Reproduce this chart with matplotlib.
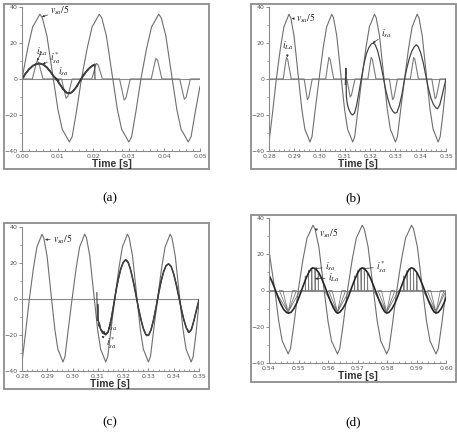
import matplotlib.pyplot as plt
import numpy as np
from matplotlib.patches import Rectangle
from matplotlib.ticker import MultipleLocator, FormatStrFormatter

plt.rcParams['mathtext.fontset'] = 'stix'

# ---- data (time in ms) ----
# (a) start-up, 0.00 - 0.05 s
va_t = [0.0, 1.6, 3.0, 3.6, 5.0, 5.7, 7.0, 8.8, 10.1, 11.3, 11.9, 13.3, 14.1, 15.3,
        16.7, 18.3, 19.7, 20.3, 21.7, 22.4, 23.7, 25.5, 26.8, 28.0, 28.6, 30.0, 30.8, 32.0,
        33.4, 35.0, 36.4, 37.0, 38.4, 39.1, 40.4, 42.2, 43.5, 44.7, 45.3, 46.7, 47.5, 48.7, 50.0]
va = [0, 17, 29, 31, 36, 34, 24, 0, -17, -28, -30, -35, -32, -18,
      0, 17, 29, 31, 36, 34, 24, 0, -17, -28, -30, -35, -32, -18,
      0, 17, 29, 31, 36, 34, 24, 0, -17, -28, -30, -35, -32, -18, -4]
ila_t = [0.0, 2.9, 3.6, 4.2, 4.7, 5.3, 5.9,
         11.1, 11.8, 12.4, 12.9, 13.5, 14.1,
         19.6, 20.3, 20.9, 21.4, 22.0, 22.6,
         27.4, 28.1, 28.7, 29.2, 29.8, 30.4,
         36.3, 37.0, 37.6, 38.1, 38.7, 39.3,
         44.3, 45.0, 45.6, 46.1, 46.7, 47.3, 50.0]
ila_a = [0, 0, 5.5, 10, 9, 4.5, 0,
         0, -5.9, -10.7, -9.6, -4.8, 0,
         0, 4.8, 8.7, 7.8, 3.9, 0,
         0, -6.4, -11.7, -10.5, -5.3, 0,
         0, 6.3, 11.5, 10.4, 5.2, 0,
         0, -6.2, -11.3, -10.2, -5.1, 0, 0]
isref_a_t = [0.0, 1.0, 2.0, 3.0, 4.0, 4.9, 6.0, 7.0, 8.0, 9.0, 9.7, 10.5, 11.5, 12.5,
             13.2, 14.0, 15.0, 16.0, 16.6, 17.5, 18.5, 19.5, 20.4]
isref_a = [0, 3, 5.5, 7.3, 8.3, 8.6, 8.0, 6.4, 4.0, 1.3, 0, -2.5, -5.5, -7.5,
           -8.0, -7.4, -5.2, -2.0, 0, 2.8, 5.2, 7.0, 8.0]
isa_a_t = list(np.arange(0, 20.01, 0.5)) + [20.4, 20.5]
isa_a = [0, 1.0, 3.4, 4.0, 5.8, 6.2, 7.5, 7.6, 8.5, 8.4,
         8.8, 8.2, 8.2, 7.0, 6.6, 5.0, 4.3, 2.4, 1.5, -0.4,
         -1.0, -3.0, -3.8, -5.8, -6.3, -7.8, -7.6, -8.1, -7.2, -6.6,
         -5.0, -4.2, -2.0, -1.0, 1.2, 2.2, 4.1, 4.8, 6.4, 6.8,
         7.9, 8.0, 0]

# (b) and (c) share the 0.28 - 0.35 s window
vb_t = [280.0, 281.3, 282.9, 284.5, 285.9, 286.5, 287.9, 288.6, 289.9, 291.7, 293.0, 294.2, 294.8, 296.2, 297.0, 298.2,
        299.8, 301.4, 302.8, 303.4, 304.8, 305.5, 306.8, 308.6, 309.9, 311.1, 311.7, 313.1, 313.9, 315.1,
        316.7, 318.3, 319.7, 320.3, 321.7, 322.4, 323.7, 325.5, 326.8, 328.0, 328.6, 330.0, 330.8, 332.0,
        333.6, 335.2, 336.6, 337.2, 338.6, 339.3, 340.6, 342.4, 343.7, 344.9, 345.5, 346.9, 347.7, 348.9, 350.0]
vb = [-35, -20, 0, 17, 29, 31, 36, 34, 24, 0, -17, -28, -30, -35, -32, -18,
      0, 17, 29, 31, 36, 34, 24, 0, -17, -28, -30, -35, -32, -18,
      0, 17, 29, 31, 36, 34, 24, 0, -17, -28, -30, -35, -32, -18,
      0, 17, 29, 31, 36, 34, 24, 0, -17, -28, -30, -35, -32, -18, -2]
ila_b_t = [280.0, 285.6, 286.3, 286.9, 287.4, 288.1, 288.8,
           293.9, 294.6, 295.2, 295.7, 296.4, 297.1,
           302.4, 303.1, 303.7, 304.2, 304.9, 305.6,
           310.8, 311.5, 312.1, 312.6, 313.3, 314.0,
           319.1, 319.8, 320.4, 320.9, 321.6, 322.3,
           327.6, 328.3, 328.9, 329.4, 330.1, 330.8,
           335.9, 336.6, 337.2, 337.7, 338.4, 339.1,
           344.4, 345.1, 345.7, 346.2, 346.9, 347.6, 350.0]
ila_b = [0, 0, 6.6, 12, 10.8, 5.4, 0,
         0, -6.3, -11.5, -10.4, -5.2, 0,
         0, 6.6, 12, 10.8, 5.4, 0,
         0, -5.5, -10, -9, -4.5, 0,
         0, 6.6, 12, 10.8, 5.4, 0,
         0, -6.3, -11.5, -10.4, -5.2, 0,
         0, 6.6, 12, 10.8, 5.4, 0,
         0, -6.1, -11, -9.9, -5, 0, 0]
isa_b_t = [310.2, 310.4, 310.6, 311.0, 311.6, 312.3, 313.0, 313.8, 314.6, 315.5,
           316.5, 317.5, 318.5, 319.5, 320.5, 321.2, 322.0, 323.0, 324.0, 325.0,
           326.0, 327.0, 328.0, 329.0, 329.8, 330.6, 331.5, 332.5, 333.5, 334.5,
           335.5, 336.5, 337.5, 338.3, 339.0, 340.0, 341.0, 342.0, 343.0, 344.0,
           345.0, 346.0, 346.6, 347.5, 348.5, 349.3, 350.0]
isa_b = [-3, 6, -10, -14, -17, -19, -20, -19, -15, -8,
         0, 8, 14, 17.5, 19.5, 20, 19, 15.5, 9.5, 2.5,
         -5, -11, -15.5, -18, -19, -18.5, -15, -9, -1, 6,
         11.5, 15.5, 18, 19, 18, 14.5, 9, 2, -5, -10.5,
         -14, -16, -16.5, -14.5, -9, -4, 0]
isa_c_t = [309.6, 309.8, 310.0, 310.3, 310.7, 311.2, 311.8, 312.5, 313.2, 313.8,
           314.6, 315.5, 316.5, 317.5, 318.5, 319.5, 320.3, 321.0, 321.7, 322.5,
           323.5, 324.5, 325.5, 326.5, 327.5, 328.5, 329.3, 330.1, 331.0, 332.0,
           333.0, 334.0, 335.0, 336.0, 337.0, 337.9, 338.8, 339.8, 340.8, 341.8,
           342.8, 343.8, 344.8, 345.8, 346.6, 347.5, 348.5, 349.3, 350.0]
isa_c = [3.5, -12, -3, -15, -14, -17.5, -19, -19.5, -20, -19,
         -15.5, -9, -1, 7, 13.5, 18.5, 21, 22, 21.2, 18.5,
         13, 6.5, -1, -8, -14, -18.5, -20.5, -20, -17, -11.5,
         -4.5, 3, 10, 15, 18.5, 19.6, 18.5, 15, 9.5, 3,
         -4, -10.5, -15.5, -18.7, -18, -14.5, -9, -4.5, -1]
isref_c_t = [310.4] + list(range(311, 351))
isref_c = [-13, -16.5, -18.5, -19.5, -18.5, -13.5, -5.5, 3, 10.5, 16.5,
           20.3, 21.7, 20.3, 16, 9.8, 2.7, -4.7, -11.2, -16.5, -19.8,
           -20.2, -17.3, -11.8, -4.8, 2.8, 9.8, 15.2, 18.6, 19.5, 18,
           13.8, 8, 1.3, -5.5, -11.5, -16, -18.5, -17, -12, -6, -0.5]

# (d) steady state, 0.54 - 0.60 s
vd_t = [540.0, 542.0, 543.3, 544.5, 545.1, 546.5, 547.3, 548.5,
        549.9, 551.5, 552.9, 553.5, 554.9, 555.6, 556.9, 558.7, 560.0, 561.2, 561.8, 563.2, 564.0, 565.2,
        566.6, 568.2, 569.6, 570.2, 571.6, 572.3, 573.6, 575.4, 576.7, 577.9, 578.5, 579.9, 580.7, 581.9,
        583.3, 584.9, 586.3, 586.9, 588.3, 589.0, 590.3, 592.1, 593.4, 594.6, 595.2, 596.6, 597.4, 598.6, 600.0]
vd = [22, 0, -17, -28, -30, -35, -32, -18,
      0, 17, 29, 31, 36, 34, 24, 0, -17, -28, -30, -35, -32, -18,
      0, 17, 29, 31, 36, 34, 24, 0, -17, -28, -30, -35, -32, -18,
      0, 17, 29, 31, 36, 34, 24, 0, -17, -28, -30, -35, -32, -18, 0]
isa_d_t = [540, 541, 542, 543, 544, 545, 546, 546.6, 547.5, 548.5, 549.5, 550.5, 551.5, 552.5, 553.5,
           554.3, 554.9, 555.8, 556.8, 557.8, 558.8, 559.8, 560.8, 561.8, 562.6, 563.2, 564.0, 565.0,
           566.0, 567.0, 568.0, 569.0, 570.0, 570.8, 571.6, 572.4, 573.4, 574.4, 575.4, 576.4, 577.4,
           578.4, 579.2, 579.9, 580.7, 581.7, 582.7, 583.7, 584.7, 585.7, 586.7, 587.5, 588.3, 589.1,
           590.1, 591.1, 592.1, 593.1, 594.1, 595.1, 595.9, 596.6, 597.4, 598.4, 599.3, 600.0]
isa_d = [8.5, 5, 1, -3.5, -7.5, -10.5, -12.2, -12.5, -12, -9.8, -6.5, -2.3, 2.2, 6.5, 10,
         12, 12.5, 12, 10, 6.8, 2.8, -1.5, -5.8, -9.5, -11.7, -12.5, -12, -10,
         -7, -3, 1.5, 5.8, 9.5, 11.7, 12.5, 12, 10, 6.8, 2.8, -1.5, -5.8,
         -9.5, -11.7, -12.5, -12, -10, -7, -3, 1.5, 5.8, 9.5, 11.7, 12.5, 12,
         10, 6.8, 2.8, -1.5, -5.8, -9.5, -11.7, -12.5, -12, -10, -7, -4]
ila_d_t = [540.0,
           542.0, 546.5, 543.5, 544.7, 546.5, 548.0, 549.3, 546.5, 550.5,
           552.3, 552.3, 552.4, 553.4, 553.4, 553.5, 554.5, 554.5, 554.6, 555.6, 555.6, 555.7, 556.7, 556.7, 556.8,
           558.7, 563.2, 560.2, 561.4, 563.2, 564.7, 566.0, 563.2, 567.2,
           569.0, 569.0, 569.1, 570.1, 570.1, 570.2, 571.2, 571.2, 571.3, 572.3, 572.3, 572.4, 573.4, 573.4, 573.5,
           575.4, 579.9, 576.9, 578.1, 579.9, 581.4, 582.7, 579.9, 583.9,
           585.7, 585.7, 585.8, 586.8, 586.8, 586.9, 587.9, 587.9, 588.0, 589.0, 589.0, 589.1, 590.1, 590.1, 590.2,
           592.1, 596.6, 593.6, 594.8, 596.6, 598.1, 599.4, 596.6, 600.0]
ila_d = [0,
         0, -12, 0, 0, -12, 0, 0, -12, 0,
         0, 8, 0, 0, 11, 0, 0, 12.4, 0, 0, 12.2, 0, 0, 10, 0,
         0, -12, 0, 0, -12, 0, 0, -12, 0,
         0, 8, 0, 0, 11, 0, 0, 12.4, 0, 0, 12.2, 0, 0, 10, 0,
         0, -12, 0, 0, -12, 0, 0, -12, 0,
         0, 8, 0, 0, 11, 0, 0, 12.4, 0, 0, 12.2, 0, 0, 10, 0,
         0, -12, 0, 0, -12, 0, 0, -12, 0]

W, H = 457, 432
fig = plt.figure(figsize=(W / 100, H / 100), dpi=100)

V_COL, L_COL, S_COL = '#6e6e6e', '#7a7a7a', '#262626'


def ms(t):
    return np.asarray(t, dtype=float) / 1000.0


def make_panel(ax_px, frame_px, xlim, time_px, cap, cap_px):
    x0, y0, x1, y1 = ax_px
    ax = fig.add_axes([x0 / W, 1 - y1 / H, (x1 - x0) / W, (y1 - y0) / H])
    ax.set_xlim(xlim[0] / 1000, xlim[1] / 1000)
    ax.set_ylim(-40, 40)
    ax.axhline(0, color='#8a8a8a', lw=0.8, zorder=1)
    for s in ['top', 'right']:
        ax.spines[s].set_visible(False)
    for s in ['left', 'bottom']:
        ax.spines[s].set_color('#8a8a8a')
        ax.spines[s].set_linewidth(0.8)
    ax.xaxis.set_major_locator(MultipleLocator(0.01))
    ax.xaxis.set_minor_locator(MultipleLocator(0.002))
    ax.xaxis.set_major_formatter(FormatStrFormatter('%.2f'))
    ax.yaxis.set_major_locator(MultipleLocator(20))
    ax.yaxis.set_minor_locator(MultipleLocator(10))
    ax.tick_params(axis='x', which='both', direction='in', colors='#777', labelsize=4.5,
                   labelcolor='#555', pad=2)
    ax.tick_params(axis='y', which='both', direction='out', colors='#777', labelsize=4.5,
                   labelcolor='#555', pad=1)
    ax.tick_params(which='major', length=2.5, width=0.6)
    ax.tick_params(which='minor', length=1.5, width=0.5)
    ax.patch.set_alpha(0)

    fx0, fy0, fx1, fy1 = frame_px
    fig.add_artist(Rectangle((fx0 / W, 1 - fy1 / H), (fx1 - fx0) / W, (fy1 - fy0) / H,
                             transform=fig.transFigure, fill=False, ec='#8c8c8c', lw=1.3))
    fig.text(time_px[0] / W, 1 - time_px[1] / H, 'Time [s]', ha='center', va='center',
             fontsize=7.5, color='#333', family='Liberation Sans', fontweight='bold')
    fig.text(cap_px[0] / W, 1 - cap_px[1] / H, cap, ha='center', va='center',
             fontsize=9.5, family='Liberation Serif')
    return ax


def label(ax, txt, xy, xytext):
    ax.annotate(txt, xy=(xy[0] / 1000, xy[1]), xytext=(xytext[0] / 1000, xytext[1]),
                fontsize=7, ha='left', va='center', color='#222',
                arrowprops=dict(arrowstyle='-|>', mutation_scale=3, lw=0.5, color='#333',
                                shrinkA=0, shrinkB=0))


# (a)
ax = make_panel((22, 7, 200, 151), (4, 4, 209, 169), (0, 50), (112, 164), '(a)', (110, 198))
ax.plot(ms(va_t), va, color=V_COL, lw=0.8)
ax.plot(ms(ila_t), ila_a, color=L_COL, lw=0.8)
ax.plot(ms(isref_a_t), isref_a, color=S_COL, lw=1.3)
ax.plot(ms(isa_a_t), isa_a, color='#444', lw=0.8)
label(ax, r'$v_{sa}/5$', (5.6, 34.5), (8.0, 38))
label(ax, r'$i_{La}$', (4.2, 10), (3.9, 15))
label(ax, r'$i^*_{sa}$', (5.8, 8.2), (7.9, 11.5))
label(ax, r'$i_{sa}$', (9.9, -1.5), (10.2, 4))

# (b)
ax = make_panel((269, 7, 446, 151), (251, 4, 456, 169), (280, 350), (358, 164), '(b)', (353, 198))
ax.plot(ms(vb_t), vb, color=V_COL, lw=0.8)
ax.plot(ms(ila_b_t), ila_b, color=L_COL, lw=0.8)
ax.plot(ms(isa_b_t), isa_b, color='#444', lw=0.9)
label(ax, r'$v_{sa}/5$', (289.0, 33.5), (290.8, 34))
label(ax, r'$i_{La}$', (287.2, 12), (285.3, 18.5))
label(ax, r'$i_{sa}$', (321.0, 20), (324.3, 25))

# (c)
ax = make_panel((22, 227, 199, 371), (4, 223, 209, 389), (280, 350), (110, 384), '(c)', (110, 422))
ax.plot(ms(vb_t), vb, color=V_COL, lw=0.8)
ax.plot(ms(isref_c_t), isref_c, color=S_COL, lw=1.1)
ax.plot(ms(isa_c_t), isa_c, color='#444', lw=0.8)
label(ax, r'$v_{sa}/5$', (289.1, 33), (292.3, 33))
label(ax, r'$i_{sa}$', (311.8, -19), (313.6, -15.6))
label(ax, r'$i^*_{sa}$', (311.5, -20.5), (313.2, -24.5))

# (d)
ax = make_panel((269, 218, 446, 363), (251, 215, 456, 382), (540, 600), (358, 376), '(d)', (353, 422))
ax.plot(ms(vd_t), vd, color=V_COL, lw=0.8)
ax.plot(ms(ila_d_t), ila_d, color=L_COL, lw=0.6)
ax.plot(ms(isa_d_t), isa_d, color=S_COL, lw=1.2)
label(ax, r'$v_{sa}/5$', (555.5, 34), (556.8, 31.5))
label(ax, r'$i_{sa}$', (555.3, 12), (559.0, 13))
label(ax, r'$i_{La}$', (555.6, 6.5), (560.0, 7))
label(ax, r'$i^*_{sa}$', (571.5, 12), (576.3, 13))

fig.savefig('out.png', dpi=100)
